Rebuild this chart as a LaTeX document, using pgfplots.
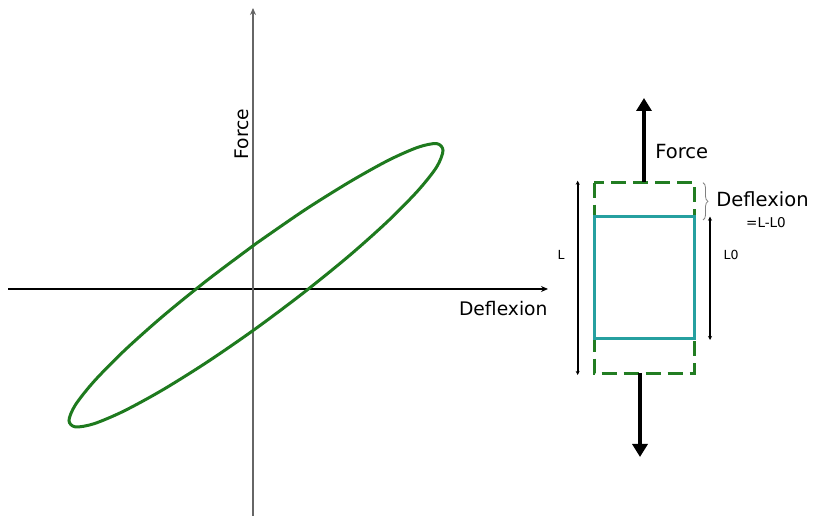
\documentclass[border=0pt]{standalone}
\usepackage{pgfplots}
\pgfplotsset{compat=1.18}
\usepackage{fontspec}
\setmainfont{DejaVu Sans}
\usetikzlibrary{arrows.meta,decorations.pathreplacing}
\definecolor{loopgreen}{RGB}{30,122,30}
\definecolor{boxgreen}{RGB}{34,125,34}
\definecolor{boxteal}{RGB}{38,160,160}
\begin{document}
\begin{tikzpicture}
\begin{axis}[
  x=1bp, y=1bp,
  xmin=-245, xmax=295, ymin=-227, ymax=281,
  axis lines=middle,
  axis line style={line width=1.1bp},
  x axis line style={black, -{Stealth[length=7bp,width=6bp]}},
  y axis line style={black!60, -{Stealth[length=7bp,width=6bp]}},
  xtick=\empty, ytick=\empty,
  clip=false,
]
% hysteresis loop
\addplot[loopgreen, line width=3bp, smooth, mark=none] coordinates {
 (3,45.4) (-45.4,9.1) (-90.5,-27.5) (-129.2,-62.1) (-158.9,-92.3)
 (-177.6,-115.9) (-184,-131.5) (-177.6,-137.9) (-158.9,-134.7)
 (-129.2,-122.1) (-90.5,-101.0) (-45.4,-72.8) (3,-39.4) (51.4,-3.1)
 (96.5,33.5) (135.2,68.1) (164.9,98.3) (183.6,121.9) (190,138.5)
 (183.6,145.4) (164.9,141.7) (135.2,128.6) (96.5,107.0) (51.4,78.8)
 (3,45.4)
};
% axis labels
\node[rotate=90, anchor=base, font=\fontsize{18.7bp}{20bp}\selectfont] at (axis cs:-4.7,154.8) {Force};
\node[anchor=base, font=\fontsize{18.7bp}{20bp}\selectfont] at (axis cs:250.3,-27) {Deflexion};

% right-hand sketch
\draw[boxgreen, line width=3bp, dash pattern=on 15bp off 7bp] (axis cs:341.3,106.3) rectangle (axis cs:441.3,-84.3);
\draw[boxteal, line width=3bp] (axis cs:341.3,72.3) rectangle (axis cs:441.3,-49.3);
\draw[black, line width=3.3bp, -{Triangle[length=13bp,width=15bp]}] (axis cs:391,107) -- (axis cs:391,191);
\draw[black, line width=3.3bp, -{Triangle[length=13bp,width=15bp]}] (axis cs:387,-84) -- (axis cs:387,-168);
\draw[black, line width=1.8bp, {Stealth[length=4bp,width=4bp]}-{Stealth[length=4bp,width=4bp]}] (axis cs:324.7,108.3) -- (axis cs:324.7,-86);
\draw[black, line width=1.8bp, {Stealth[length=4bp,width=4bp]}-{Stealth[length=4bp,width=4bp]}] (axis cs:457,72.3) -- (axis cs:457,-51);
\draw[black!50, line width=0.8bp, decorate, decoration={brace, amplitude=5bp}] (axis cs:450,106.3) -- (axis cs:450,69);
\node[anchor=base, font=\fontsize{19.5bp}{21bp}\selectfont] at (axis cs:428.7,130.7) {Force};
\node[anchor=base, font=\fontsize{19.5bp}{21bp}\selectfont] at (axis cs:509.5,82.3) {Deflexion};
\node[anchor=base, font=\fontsize{13.5bp}{15bp}\selectfont] at (axis cs:513,61.7) {=L-L0};
\node[anchor=base, font=\fontsize{12.5bp}{14bp}\selectfont] at (axis cs:478,29) {L0};
\node[anchor=base, font=\fontsize{12.5bp}{14bp}\selectfont] at (axis cs:308,29) {L};
% picture extent
\path (axis cs:-253,-227) rectangle (axis cs:561,289);
\end{axis}
\end{tikzpicture}
\end{document}
